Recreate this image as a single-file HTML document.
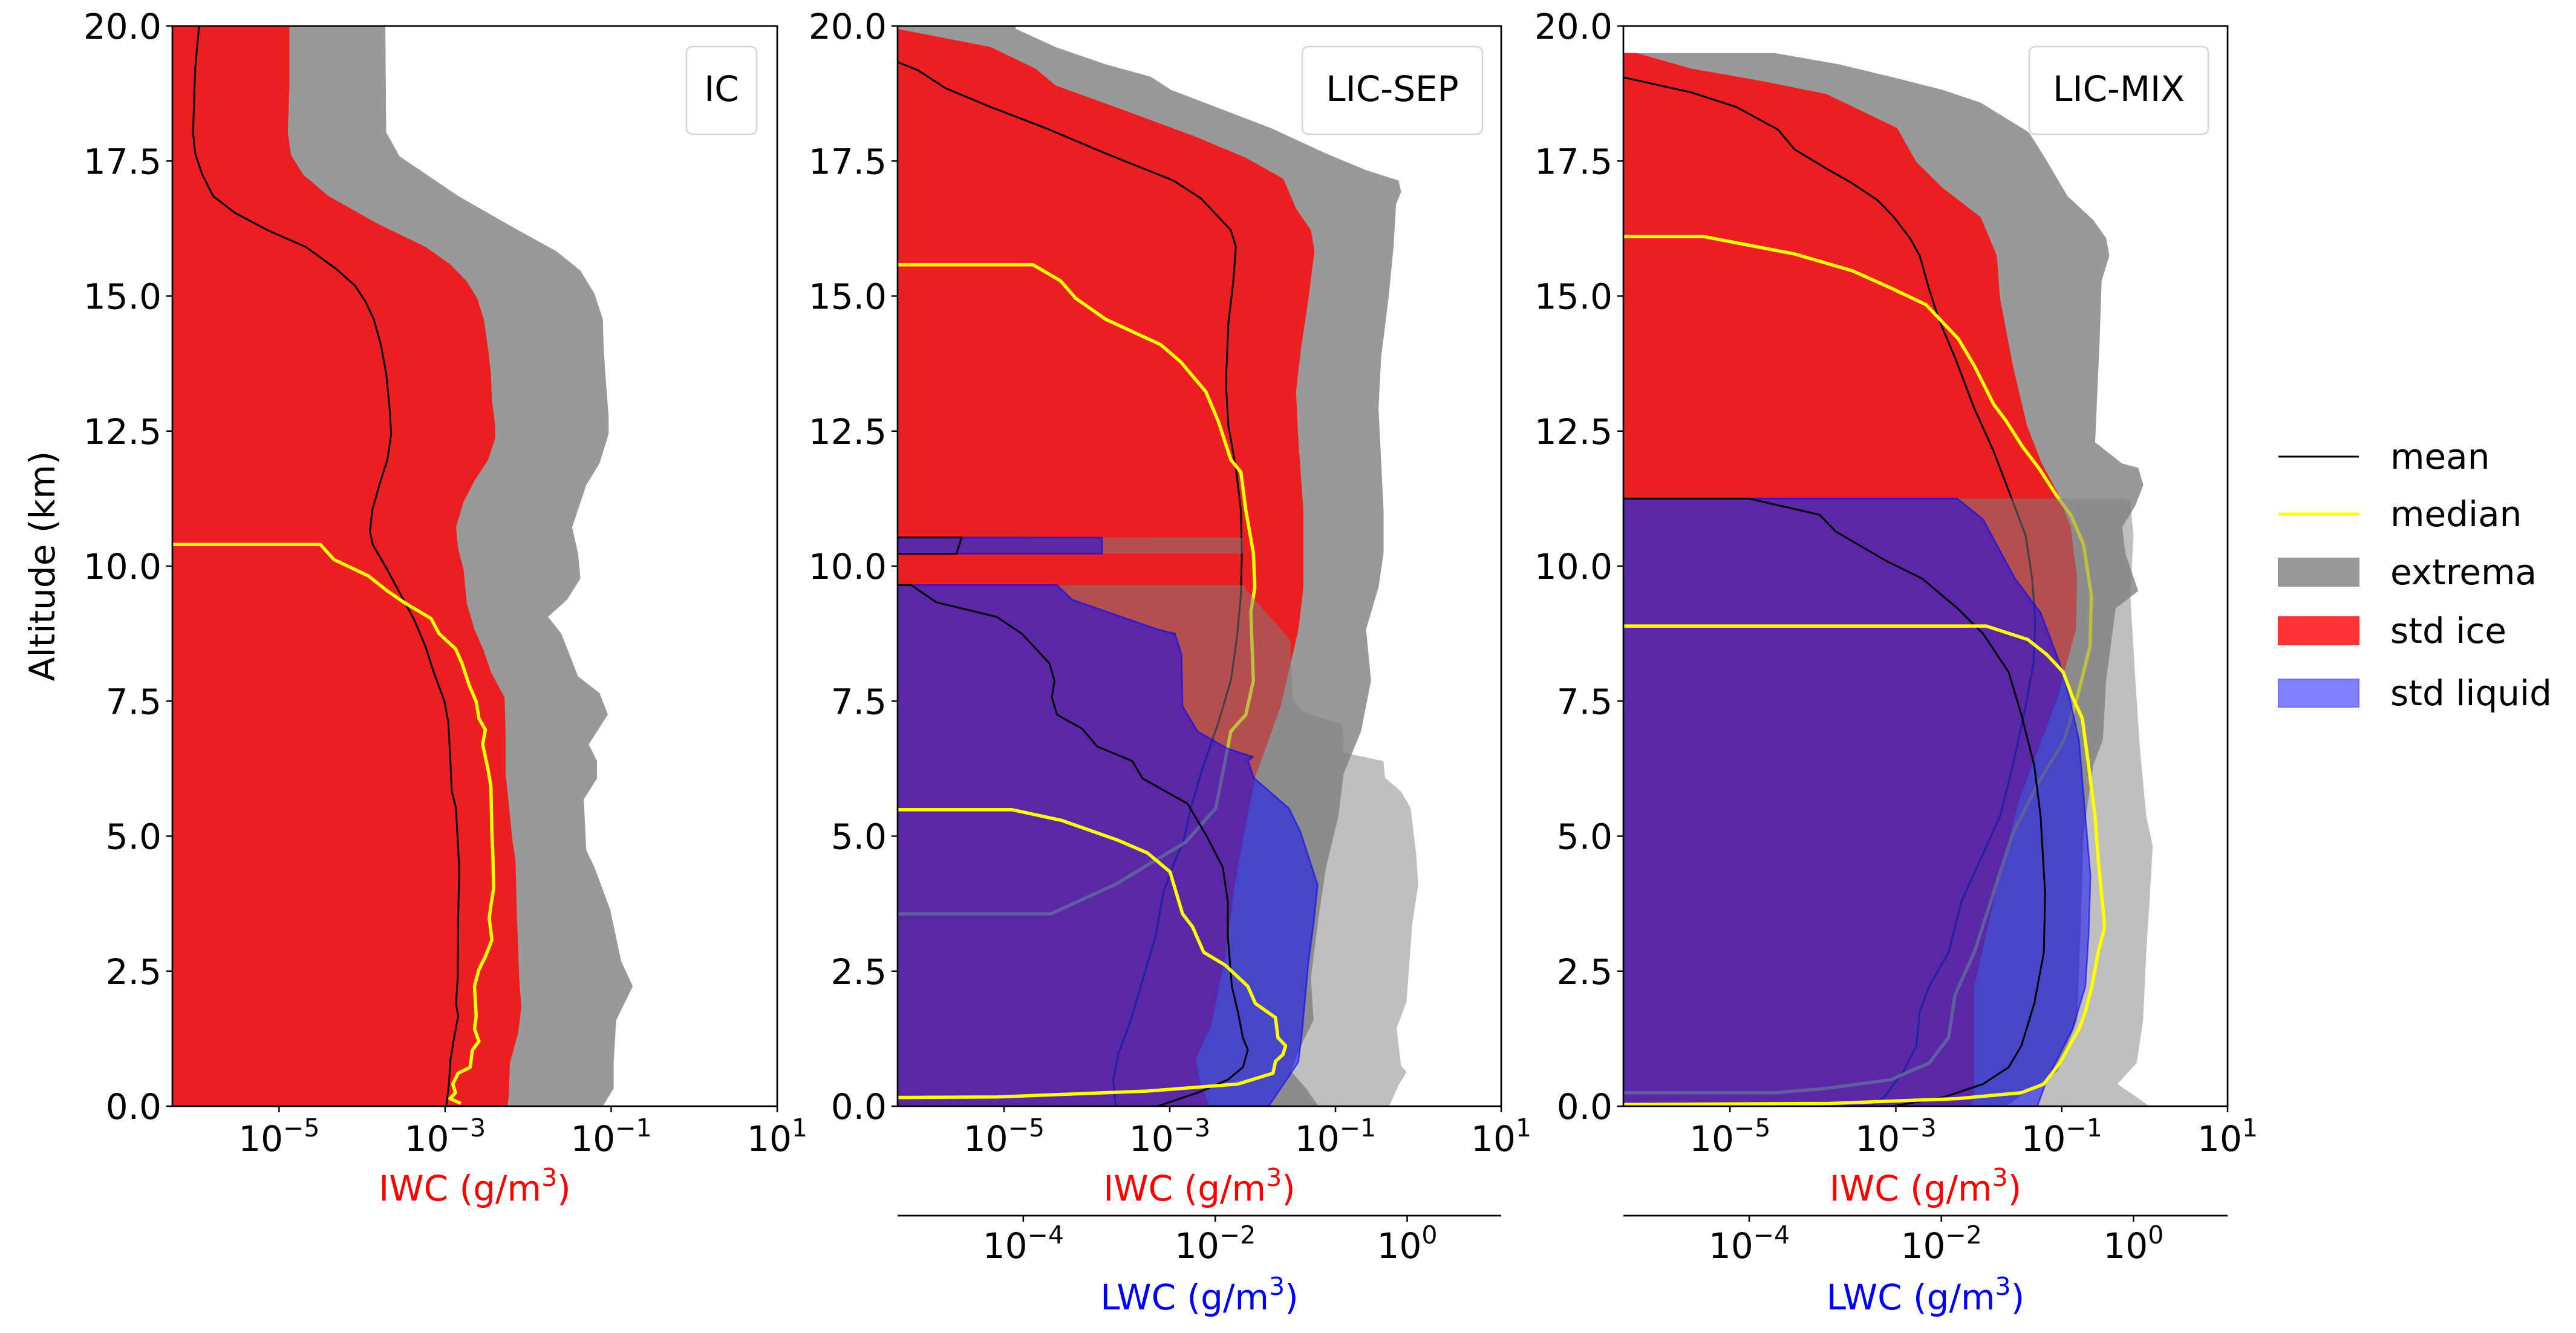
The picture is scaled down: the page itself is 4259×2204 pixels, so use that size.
<!DOCTYPE html>
<html><head><meta charset="utf-8"><style>
html,body{margin:0;padding:0;background:#fff;}
svg{display:block;}
text{font-family:"DejaVu Sans","Liberation Sans",sans-serif;}
</style></head><body>
<svg id="chart" width="4259" height="2204" viewBox="0 0 4259 2204" xmlns="http://www.w3.org/2000/svg">
<defs>
<clipPath id="c1"><rect x="285" y="43" width="1000" height="1786"/></clipPath>
<clipPath id="c2"><rect x="1484" y="43" width="998" height="1786"/></clipPath>
<clipPath id="c3"><rect x="2684" y="43" width="999" height="1786"/></clipPath>
</defs>
<g id="root"></g>
</svg>
<script>
// ---------- axis ranges ----------
const altTicks = [0, 2.5, 5, 7.5, 10, 12.5, 15, 17.5, 20];
const iwcTicks = [-5, -3, -1, 1];
const lwcTicks = [-4, -2, 0];

// ---------- Panel IC (ice only) ----------
const icExtAlt = [20,18.03,17.59,16.85,16.22,15.83,15.47,15.04,14.57,14.02,13.55,12.76,12.45,11.90,11.50,10.72,10.24,9.77,9.38,9.06,8.75,8.36,7.96,7.65,7.25,6.70,6.39,6.07,5.68,4.74,4.42,3.63,2.69,2.22,1.59,0.80,0.33,0];
const icExtMax = [-3.72,-3.71,-3.55,-2.84,-2.12,-1.66,-1.37,-1.20,-1.10,-1.09,-1.07,-1.03,-1.03,-1.14,-1.30,-1.47,-1.40,-1.37,-1.53,-1.76,-1.60,-1.50,-1.40,-1.14,-1.04,-1.27,-1.17,-1.17,-1.33,-1.30,-1.20,-1.01,-0.88,-0.74,-0.94,-0.97,-0.97,-1.10];
const icStdAlt = [20,18.90,18.03,17.61,17.25,16.85,16.35,15.91,15.59,15.28,14.96,14.57,14.02,13.55,13.08,12.60,12.37,11.97,11.58,11.19,10.72,10.32,9.93,9.30,8.83,8.43,8.04,7.57,6.94,6.15,5.68,4.89,4.58,3.48,2.38,1.83,1.35,0.80,0.17,0];
const icStdMax = [-4.875,-4.875,-4.895,-4.856,-4.711,-4.403,-3.826,-3.236,-2.941,-2.744,-2.613,-2.534,-2.482,-2.449,-2.436,-2.397,-2.397,-2.482,-2.646,-2.777,-2.869,-2.843,-2.777,-2.738,-2.646,-2.534,-2.449,-2.285,-2.272,-2.272,-2.239,-2.187,-2.154,-2.134,-2.108,-2.082,-2.121,-2.220,-2.233,-2.252];
const icMeanAlt = [20,19.21,18.03,17.64,17.25,16.85,16.54,16.22,15.91,15.51,15.20,14.89,14.57,14.10,13.55,12.92,12.45,11.97,11.50,11.03,10.64,10.40,9.93,9.46,8.99,8.51,8.04,7.49,7.10,6.31,5.84,5.52,4.74,4.42,3.48,2.38,1.90,1.67,1.35,0.88,0.41,0];
const icMeanVal = [-5.964,-6.010,-6.036,-6.010,-5.925,-5.793,-5.531,-5.138,-4.679,-4.318,-4.089,-3.957,-3.859,-3.774,-3.708,-3.669,-3.649,-3.695,-3.793,-3.879,-3.905,-3.872,-3.695,-3.531,-3.367,-3.236,-3.138,-3.007,-2.961,-2.934,-2.921,-2.869,-2.843,-2.830,-2.843,-2.849,-2.869,-2.843,-2.882,-2.934,-2.954,-2.987];
const icMedAlt = [10.40,10.40,10.12,9.82,9.54,9.33,9.03,8.75,8.47,8.20,7.80,7.49,7.18,6.97,6.70,6.23,5.92,5.05,4.58,4.03,3.71,3.48,3.08,2.77,2.53,2.22,1.67,1.43,1.20,1.04,0.72,0.61,0.41,0.25,0.14,0.05];
const icMedVal = [-6.3,-4.502,-4.338,-3.925,-3.695,-3.498,-3.170,-3.072,-2.875,-2.797,-2.711,-2.626,-2.593,-2.515,-2.548,-2.482,-2.449,-2.436,-2.423,-2.416,-2.449,-2.469,-2.436,-2.515,-2.593,-2.646,-2.626,-2.646,-2.593,-2.672,-2.698,-2.843,-2.908,-2.875,-2.941,-2.810];

// ---------- Panel LIC-SEP ----------
const sepIceExtAlt = [20,19.95,19.61,19.29,19.06,18.82,18.50,18.11,17.64,17.33,17.14,16.93,16.70,15.91,14.96,13.86,12.92,11.97,11.03,10.24,9.61,8.83,7.88,6.94,6.15,5.37,4.42,3.48,2.38,1.59,1.12,0.65,0.33,0];
const sepIceExtMax = [-4.861,-4.861,-4.378,-3.773,-3.230,-2.988,-2.444,-1.779,-1.115,-0.631,-0.239,-0.208,-0.269,-0.299,-0.360,-0.450,-0.480,-0.450,-0.420,-0.420,-0.480,-0.631,-0.571,-0.692,-0.903,-0.964,-1.115,-1.205,-1.296,-1.266,-1.417,-1.538,-1.356,-1.205];
const sepIceStdAlt = [19.95,19.61,19.21,18.90,18.43,17.95,17.56,17.17,16.62,16.22,15.83,14.96,14.02,13.23,12.29,11.03,9.61,8.83,7.41,6.10,5.20,4.04,2.88,1.82,1.50,0.87,0.50,0];
const sepIceStdMax = [-6.299,-5.163,-4.619,-4.378,-3.532,-2.686,-2.082,-1.628,-1.477,-1.296,-1.254,-1.326,-1.417,-1.477,-1.447,-1.387,-1.387,-1.447,-1.659,-1.968,-2.085,-2.223,-2.316,-2.456,-2.50,-2.687,-2.64,-2.52];
const sepIceMeanAlt = [19.34,19.18,18.85,18.50,18.11,17.64,17.14,16.81,16.22,15.91,15.28,14.49,13.39,12.60,11.82,11.03,10.24,9.46,8.67,7.88,7.10,6.31,5.52,4.89,4.58,3.95,3.16,2.38,1.59,0.96,0.49,0];
const sepIceMeanVal = [-6.299,-6.039,-5.707,-5.163,-4.498,-3.773,-2.958,-2.625,-2.263,-2.202,-2.233,-2.293,-2.323,-2.293,-2.202,-2.142,-2.130,-2.142,-2.190,-2.263,-2.414,-2.595,-2.746,-2.837,-2.927,-3.079,-3.169,-3.320,-3.471,-3.622,-3.683,-3.653];
const sepIceMedAlt = [15.58,15.58,15.28,14.96,14.57,14.10,13.78,13.23,12.68,11.97,11.74,11.03,10.24,9.61,9.14,7.88,7.25,6.94,6.47,5.52,4.89,4.11,3.56,3.56];
const sepIceMedVal = [-6.3,-4.650,-4.317,-4.136,-3.773,-3.109,-2.867,-2.565,-2.414,-2.263,-2.142,-2.082,-1.991,-1.973,-2.021,-1.991,-2.082,-2.263,-2.323,-2.444,-2.807,-3.653,-4.438,-6.3];
const sepLiqExtAlt = [10.53,10.23,10.0,9.65,9.30,9.10,8.91,8.62,7.57,7.31,7.20,7.08,6.83,6.55,6.39,6.08,5.83,5.52,4.68,4.10,3.40,1.93,1.45,0.76,0.63,0.39,0.08,0];
const sepLiqExtMax = [-1.712,-1.712,null,-1.712,-1.55,-1.45,-1.35,-1.22,-1.19,-1.09,-0.92,-0.68,-0.66,-0.67,-0.248,-0.23,-0.065,0.036,0.093,0.115,0.055,-0.007,-0.11,-0.065,-0.007,-0.09,-0.167,-0.19];
const sepLiqStdAlt = [10.53,10.23,10.0,9.65,9.38,8.83,8.75,8.36,7.41,6.94,6.62,6.47,6.39,6.08,5.52,5.09,4.10,3.40,2.61,1.40,0.82,0.55,0.02,0];
const sepLiqStdMax = [-3.178,-3.178,null,-3.649,-3.492,-2.602,-2.419,-2.351,-2.340,-2.183,-1.869,-1.607,-1.656,-1.598,-1.233,-1.113,-0.932,-0.973,-1.032,-1.093,-1.133,-1.233,-1.435,-1.44];
const sepLiqMeanAlt = [10.53,10.53,10.23,10.23,10.0,9.65,9.65,9.33,9.06,8.75,8.20,7.88,7.57,7.25,6.99,6.66,6.39,6.07,5.60,4.97,4.42,3.79,3.16,2.22,1.75,1.27,1.04,0.72,0.49,0.25,0];
const sepLiqMeanVal = [-5.4,-4.644,-4.696,-5.4,null,-5.4,-5.168,-4.906,-4.277,-4.016,-3.728,-3.675,-3.702,-3.649,-3.387,-3.230,-2.864,-2.759,-2.288,-2.079,-1.921,-1.869,-1.869,-1.827,-1.764,-1.712,-1.660,-1.712,-1.869,-2.183,-2.602];
const sepLiqMedAlt = [5.49,5.49,5.29,4.93,4.69,4.34,3.56,3.32,2.85,2.61,2.22,1.90,1.64,1.27,1.12,0.96,0.83,0.61,0.41,0.28,0.17,0.16];
const sepLiqMedVal = [-5.4,-4.120,-3.597,-3.021,-2.707,-2.471,-2.340,-2.236,-2.120,-1.895,-1.660,-1.581,-1.372,-1.346,-1.267,-1.293,-1.372,-1.398,-1.764,-2.707,-4.277,-5.4];

// ---------- Panel LIC-MIX ----------
const mixIceExtAlt = [19.50,19.50,19.29,19.06,18.82,18.58,18.03,17.56,16.85,16.41,16.07,15.75,15.28,14.18,13.39,12.29,11.90,11.82,11.50,11.11,10.72,10.24,9.54,9.22,7.88,6.78,6.31,5.05,3.16,1.59,0.65,0.17,0];
const mixIceExtMax = [-6.3,-4.457,-3.682,-3.062,-2.442,-1.977,-1.395,-1.202,-0.930,-0.620,-0.465,-0.426,-0.519,-0.543,-0.566,-0.597,-0.271,-0.078,-0.016,-0.116,-0.271,-0.233,-0.078,-0.349,-0.465,-0.504,-0.620,-0.736,-0.775,-0.814,-1.047,-1.512,-1.667];
const mixIceStdAlt = [19.50,19.21,18.98,18.74,18.11,17.48,17.01,16.46,15.75,14.96,13.71,12.60,11.90,11.35,10.72,9.77,8.83,8.04,7.57,5.68,3.79,2.22,0.17,0];
const mixIceStdMax = [-6.124,-5.465,-4.612,-3.837,-2.984,-2.752,-2.442,-1.977,-1.783,-1.744,-1.589,-1.419,-1.240,-1.047,-0.891,-0.814,-0.829,-0.969,-1.047,-1.512,-1.822,-2.054,-2.054,-2.093];
const mixIceMeanAlt = [19.06,18.77,18.50,18.08,17.72,17.36,17.09,16.77,16.46,16.07,15.75,15.12,14.57,13.86,12.92,12.13,11.19,10.56,9.77,8.99,8.20,7.41,6.31,5.37,4.58,3.79,2.85,2.22,1.75,1.12,0.65,0.17,0];
const mixIceMeanVal = [-6.318,-5.465,-4.922,-4.419,-4.225,-3.837,-3.527,-3.217,-3.023,-2.829,-2.713,-2.597,-2.481,-2.287,-2.054,-1.822,-1.589,-1.434,-1.357,-1.318,-1.341,-1.434,-1.589,-1.744,-1.977,-2.209,-2.364,-2.597,-2.713,-2.752,-2.907,-3.140,-3.295];
const mixIceMedAlt = [16.10,16.10,15.78,15.47,15.15,14.84,14.21,13.71,13.00,12.68,12.21,11.82,11.27,10.95,10.40,9.46,8.51,7.57,6.78,6.00,5.05,3.95,2.85,2.06,1.27,0.80,0.49,0.33,0.25,0.25];
const mixIceMedVal = [-6.3,-5.310,-4.225,-3.527,-3.062,-2.636,-2.248,-2.054,-1.822,-1.667,-1.473,-1.279,-1.047,-0.891,-0.736,-0.643,-0.659,-0.814,-0.969,-1.279,-1.589,-1.822,-2.054,-2.287,-2.364,-2.597,-3.062,-3.837,-4.457,-6.3];
const mixLiqExtAlt = [11.25,11.20,10.56,9.46,7.88,6.62,5.37,4.82,3.79,2.85,1.59,0.80,0.41,0.25,0];
const mixLiqExtMax = [-0.1,-0.033,0.000,-0.033,0.020,0.067,0.133,0.200,0.167,0.133,0.100,0.033,-0.167,-0.033,0.167];
const mixLiqStdAlt = [11.25,10.87,9.77,9.14,8.20,7.57,6.78,5.37,4.26,3.16,2.22,1.43,0.96,0.49,0];
const mixLiqStdMax = [-1.833,-1.567,-1.233,-0.967,-0.767,-0.667,-0.567,-0.500,-0.447,-0.467,-0.500,-0.633,-0.767,-0.900,-1.000];
const mixLiqMeanAlt = [11.25,11.25,10.95,10.64,10.09,9.77,9.22,8.75,8.04,7.25,6.31,5.37,3.95,2.85,1.90,1.12,0.72,0.41,0.17,0];
const mixLiqMeanVal = [-5.4,-4.000,-3.267,-3.100,-2.567,-2.200,-1.833,-1.567,-1.300,-1.167,-1.033,-0.967,-0.920,-0.933,-1.033,-1.167,-1.300,-1.567,-1.967,-2.500];
const mixLiqMedAlt = [8.89,8.89,8.64,8.36,8.04,7.57,7.18,6.31,5.37,4.58,3.95,3.32,2.85,2.22,1.75,1.43,1.12,0.80,0.41,0.25,0.14,0.05,0.03];
const mixLiqMedVal = [-5.4,-1.533,-1.100,-0.900,-0.733,-0.633,-0.533,-0.467,-0.400,-0.367,-0.333,-0.300,-0.367,-0.433,-0.500,-0.567,-0.667,-0.767,-0.933,-1.167,-1.833,-3.167,-5.4];

// ---------- layout ----------
const NS = "http://www.w3.org/2000/svg";
const Y0 = 43, Y1 = 1829;
const IMIN = -6.285, IMAX = 1.0;
const LMIN = -5.31, LMAX = 0.98;
const panels = [
  {x0:285, x1:1285, clip:"c1", name:"ic", label:"IC", box:[1135,77,116,145], lwc:false},
  {x0:1484, x1:2482, clip:"c2", name:"lic-sep", label:"LIC-SEP", box:[2153,77,298,145], lwc:true},
  {x0:2684, x1:3683, clip:"c3", name:"lic-mix", label:"LIC-MIX", box:[3355,77,296,145], lwc:true}
];
const root = document.getElementById("root");
function mk(tag, attrs, parent){
  const e = document.createElementNS(NS, tag);
  for (const k in attrs) e.setAttribute(k, attrs[k]);
  (parent||root).appendChild(e);
  return e;
}
function yA(a){ return Y1 - a/20*(Y1-Y0); }
function xI(p,v){ return p.x0 + (v-IMIN)/(IMAX-IMIN)*(p.x1-p.x0); }
function xL(p,v){ return p.x0 + (v-LMIN)/(LMAX-LMIN)*(p.x1-p.x0); }
function segments(alts, vals){
  const segs=[]; let cur=[];
  for (let i=0;i<alts.length;i++){
    if (vals[i]===null){ if(cur.length) segs.push(cur); cur=[]; continue; }
    cur.push([vals[i], alts[i]]);
  }
  if (cur.length) segs.push(cur);
  return segs;
}
function fillArea(g, p, fx, alts, vals, fill, stroke, name){
  segments(alts, vals).forEach(seg=>{
    let d = "M"+(p.x0-20)+","+yA(seg[0][1]);
    seg.forEach(pt=>{ d += " L"+fx(p,pt[0]).toFixed(1)+","+yA(pt[1]).toFixed(1); });
    d += " L"+(p.x0-20)+","+yA(seg[seg.length-1][1]).toFixed(1)+" Z";
    const e = mk("path", {d:d, fill:fill, stroke:stroke||"none", "stroke-width":2.5}, g);
    
    
  });
}
function line(g, p, fx, alts, vals, color, w, name){
  segments(alts, vals).forEach(seg=>{
    let d = "";
    seg.forEach((pt,i)=>{ d += (i?" L":"M")+fx(p,pt[0]).toFixed(1)+","+yA(pt[1]).toFixed(1); });
    const e = mk("path", {d:d, fill:"none", stroke:color, "stroke-width":w, "stroke-linejoin":"round"}, g);
    
    
  });
}
function powText(x, y, exp, color, parent, name){
  const t = mk("text", {x:x, y:y, "text-anchor":"middle", "font-size":58, fill:color||"#000"}, parent);
  
  
  t.appendChild(document.createTextNode("10"));
  const s = mk("tspan", {dy:-24, "font-size":41}, t);
  s.textContent = (exp<0 ? "\u2212"+(-exp) : ""+exp);
  return t;
}

const data = [
  {ext:[icExtAlt,icExtMax], std:[icStdAlt,icStdMax], mean:[icMeanAlt,icMeanVal], med:[icMedAlt,icMedVal]},
  {ext:[sepIceExtAlt,sepIceExtMax], std:[sepIceStdAlt,sepIceStdMax], mean:[sepIceMeanAlt,sepIceMeanVal], med:[sepIceMedAlt,sepIceMedVal],
   lext:[sepLiqExtAlt,sepLiqExtMax], lstd:[sepLiqStdAlt,sepLiqStdMax], lmean:[sepLiqMeanAlt,sepLiqMeanVal], lmed:[sepLiqMedAlt,sepLiqMedVal]},
  {ext:[mixIceExtAlt,mixIceExtMax], std:[mixIceStdAlt,mixIceStdMax], mean:[mixIceMeanAlt,mixIceMeanVal], med:[mixIceMedAlt,mixIceMedVal],
   lext:[mixLiqExtAlt,mixLiqExtMax], lstd:[mixLiqStdAlt,mixLiqStdMax], lmean:[mixLiqMeanAlt,mixLiqMeanVal], lmed:[mixLiqMedAlt,mixLiqMedVal]}
];

panels.forEach((p,i)=>{
  const d = data[i];
  const pg = mk("g", {});
  
  
  const g = mk("g", {"clip-path":"url(#"+p.clip+")"}, pg);
  fillArea(g,p,xI,d.ext[0],d.ext[1],"#999999",null,"ice-extrema-area");
  fillArea(g,p,xI,d.std[0],d.std[1],"rgba(255,0,0,0.8)",null,"ice-std-area");
  line(g,p,xI,d.mean[0],d.mean[1],"#000",3,"ice-mean-line");
  line(g,p,xI,d.med[0],d.med[1],"#ffff00",5.5,"ice-median-line");
  if (d.lext){
    fillArea(g,p,xL,d.lext[0],d.lext[1],"rgba(128,128,128,0.5)",null,"liquid-extrema-area");
    fillArea(g,p,xL,d.lstd[0],d.lstd[1],"rgba(0,0,255,0.5)","rgba(0,0,255,0.6)","liquid-std-area");
    line(g,p,xL,d.lmean[0],d.lmean[1],"#000",3,"liquid-mean-line");
    line(g,p,xL,d.lmed[0],d.lmed[1],"#ffff00",5.5,"liquid-median-line");
  }
  // frame
  const fr = mk("rect",{x:p.x0,y:Y0,width:p.x1-p.x0,height:Y1-Y0,fill:"none",stroke:"#000","stroke-width":2.7},pg);
  
  
  // y ticks
  altTicks.forEach(a=>{
    const y = yA(a);
    mk("line",{x1:p.x0-10,x2:p.x0,y1:y,y2:y,stroke:"#000","stroke-width":2.5},pg);
    const t = mk("text",{x:p.x0-18,y:y+21,"text-anchor":"end","font-size":58},pg);
    
    
    t.textContent = a.toFixed(1);
  });
  // IWC ticks
  iwcTicks.forEach(v=>{
    const x = xI(p,v);
    mk("line",{x1:x,x2:x,y1:Y1,y2:Y1+10,stroke:"#000","stroke-width":2.5},pg);
    powText(x, 1903, v, "#000", pg, "iwc-tick-label");
  });
  const xl = mk("text",{x:(p.x0+p.x1)/2,y:1985,"text-anchor":"middle","font-size":58,fill:"#ff0000"},pg);
  
  
  xl.appendChild(document.createTextNode("IWC (g/m"));
  const s3 = mk("tspan",{dy:-24,"font-size":41},xl); s3.textContent="3";
  const s4 = mk("tspan",{dy:24},xl); s4.textContent=")";
  if (p.lwc){
    const ly = 2010;
    const al = mk("line",{x1:p.x0,x2:p.x1,y1:ly,y2:ly,stroke:"#000","stroke-width":2.7},pg);
    
    
    lwcTicks.forEach(v=>{
      const x = xL(p,v);
      mk("line",{x1:x,x2:x,y1:ly,y2:ly+10,stroke:"#000","stroke-width":2.5},pg);
      powText(x, 2080, v, "#000", pg, "lwc-tick-label");
    });
    const ll = mk("text",{x:(p.x0+p.x1)/2,y:2165,"text-anchor":"middle","font-size":58,fill:"#0000ff"},pg);
    
    
    ll.appendChild(document.createTextNode("LWC (g/m"));
    const q3 = mk("tspan",{dy:-24,"font-size":41},ll); q3.textContent="3";
    const q4 = mk("tspan",{dy:24},ll); q4.textContent=")";
  }
  // panel label box
  const b = p.box;
  const br = mk("rect",{x:b[0],y:b[1],width:b[2],height:b[3],rx:10,fill:"rgba(255,255,255,0.8)",stroke:"#d6d6d6","stroke-width":2.5},pg);
  
  
  const bt = mk("text",{x:b[0]+b[2]/2,y:b[1]+90,"text-anchor":"middle","font-size":58},pg);
  
  
  bt.textContent = p.label;
});

// y axis title
const yt = mk("text",{x:0,y:0,"text-anchor":"middle","font-size":58,transform:"translate(90,936) rotate(-90)"});


yt.textContent = "Altitude (km)";

// legend
const legendLabels = ["mean","median","extrema","std ice","std liquid"];
const legendY = [755, 850, 946, 1043, 1146];
const lg = mk("g",{});


legendLabels.forEach((lab,i)=>{
  const y = legendY[i];
  let m;
  if (i===0) m = mk("line",{x1:3767,x2:3900,y1:y,y2:y,stroke:"#000","stroke-width":3},lg);
  else if (i===1) m = mk("line",{x1:3767,x2:3900,y1:y,y2:y,stroke:"#ffff00","stroke-width":5},lg);
  else {
    const fills = ["#999999","#ff3333","#8080ff"];
    const strokes = ["#999999","#ff3333","#7070ff"];
    m = mk("rect",{x:3767,y:y-23,width:133,height:46,fill:fills[i-2],stroke:strokes[i-2],"stroke-width":2},lg);
  }
  
  
  const t = mk("text",{x:3952,y:y+20,"font-size":58},lg);
  
  
  t.textContent = lab;
});
</script>
</body></html>
